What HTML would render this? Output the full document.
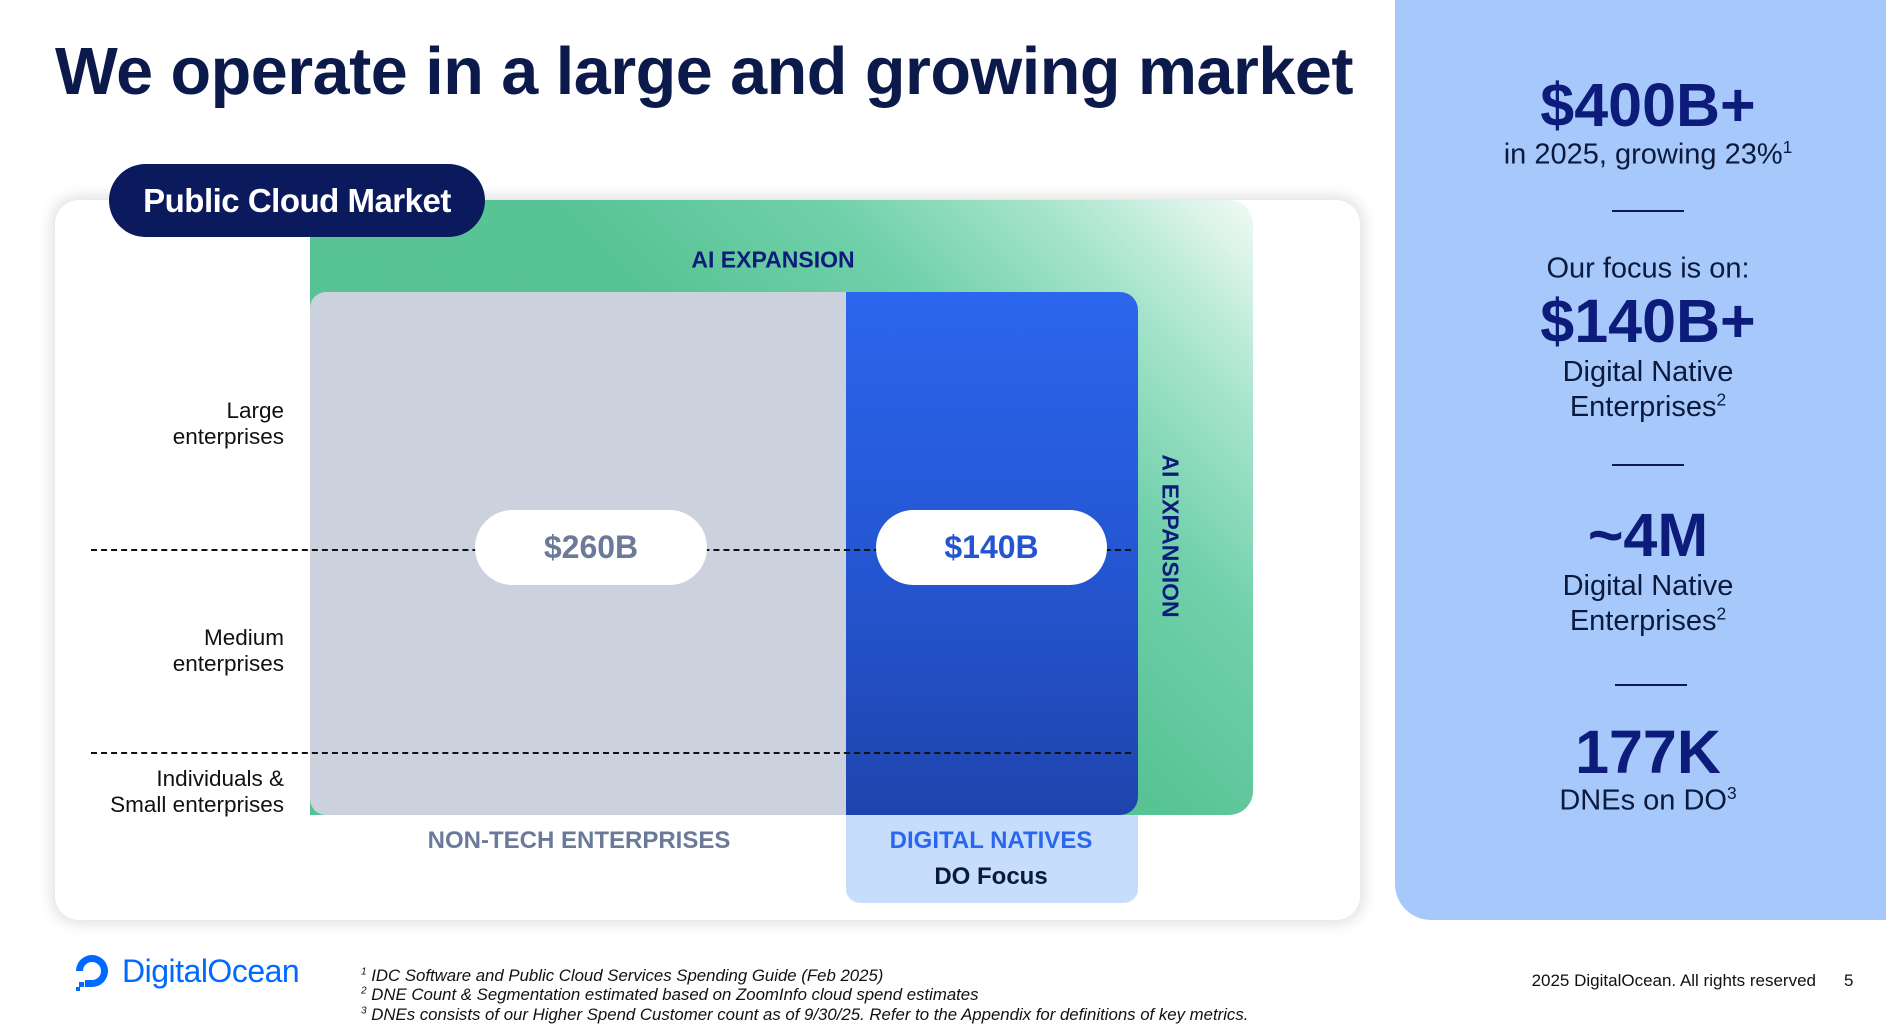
<!DOCTYPE html>
<html><head><meta charset="utf-8"><style>
*{margin:0;padding:0;box-sizing:border-box}
body{width:1886px;height:1034px;position:relative;background:#fff;font-family:"Liberation Sans",sans-serif;overflow:hidden;color:#0b1a5c}
sup{line-height:0;font-size:60%}
.a{position:absolute}
.c{transform:translate(-50%,-50%);white-space:nowrap;text-align:center}
.lbl{position:absolute;right:1602px;text-align:right;font-size:22.5px;color:#111;line-height:26px}
.rp{position:absolute;left:1648px;transform:translate(-50%,-50%);text-align:center;white-space:nowrap;color:#0b1a5c}
.big{font-size:61px;font-weight:bold;color:#0d1b7a}
.med{font-size:29px;color:#0b1a3c}
.hr{position:absolute;height:2px;background:#0b1a5c;width:72px;left:1612px}
.pill{position:absolute;background:#fff;border-radius:38px;font-size:32px;font-weight:bold;display:flex;align-items:center;justify-content:center}
</style></head><body>
<div class="a" style="left:55px;top:34px;font-size:66.5px;font-weight:bold;letter-spacing:-0.5px;color:#0b1a4a">We operate in a large and growing market</div>

<div class="a" style="left:55px;top:200px;width:1305px;height:720px;background:#fff;border-radius:24px;box-shadow:0 0 14px 4px rgba(0,0,0,0.12)"></div>
<div class="a" style="left:310px;top:200px;width:943px;height:615px;border-radius:0 24px 24px 0;background:linear-gradient(225deg,#f2fbf6 0%,#a6e4cb 14%,#6fd0aa 28%,#58c394 45%,#56c192 100%)"></div>
<div class="a c" style="left:773px;top:260px;font-size:23px;font-weight:bold;color:#0d1b7a">AI EXPANSION</div>
<div class="a c" style="left:1170px;top:536px;font-size:23px;font-weight:bold;color:#0d1b7a;transform:translate(-50%,-50%) rotate(90deg)">AI EXPANSION</div>
<div class="a" style="left:310px;top:292px;width:536px;height:523px;background:#cbd1dd;border-radius:16px 0 0 16px"></div>
<div class="a" style="left:846px;top:292px;width:292px;height:523px;background:linear-gradient(180deg,#2b66ee 0%,#2455d0 55%,#1f44ad 100%);border-radius:0 18px 18px 0"></div>
<div class="a" style="left:846px;top:815px;width:292px;height:88px;background:#c6ddfb;border-radius:0 0 14px 14px"></div>

<div class="a" style="left:91px;top:549px;width:1040px;border-top:2.5px dashed #111"></div>
<div class="a" style="left:91px;top:752px;width:1040px;border-top:2.5px dashed #111"></div>

<div class="pill" style="left:475px;top:510px;width:232px;height:75px;color:#6c7a99">$260B</div>
<div class="pill" style="left:876px;top:510px;width:231px;height:75px;color:#2455d0">$140B</div>

<div class="a" style="left:109px;top:164px;width:376px;height:73px;background:#0b1a5c;border-radius:37px;color:#fff;font-size:33px;font-weight:bold;display:flex;align-items:center;justify-content:center;letter-spacing:-0.5px">Public Cloud Market</div>

<div class="lbl" style="top:398px">Large<br>enterprises</div>
<div class="lbl" style="top:625px">Medium<br>enterprises</div>
<div class="lbl" style="top:766px">Individuals &amp;<br>Small enterprises</div>

<div class="a c" style="left:579px;top:841px;font-size:24px;font-weight:bold;color:#6c7a99">NON-TECH ENTERPRISES</div>
<div class="a c" style="left:991px;top:841px;font-size:24px;font-weight:bold;color:#2b66ee">DIGITAL NATIVES</div>
<div class="a c" style="left:991px;top:877px;font-size:24px;font-weight:bold;color:#0b1a3c">DO Focus</div>

<div class="a" style="left:1395px;top:0;width:491px;height:920px;background:#a6c8fb;border-radius:0 0 0 36px"></div>
<div class="rp big" style="top:105px">$400B+</div>
<div class="rp med" style="top:155px">in 2025, growing 23%<sup>1</sup></div>
<div class="hr" style="top:210px"></div>
<div class="rp med" style="top:269px">Our focus is on:</div>
<div class="rp big" style="top:321px">$140B+</div>
<div class="rp med" style="top:390px;line-height:35px">Digital Native<br>Enterprises<sup>2</sup></div>
<div class="hr" style="top:464px"></div>
<div class="rp big" style="top:535px">~4M</div>
<div class="rp med" style="top:604px;line-height:35px">Digital Native<br>Enterprises<sup>2</sup></div>
<div class="hr" style="top:684px;left:1615px"></div>
<div class="rp big" style="top:752px">177K</div>
<div class="rp med" style="top:801px">DNEs on DO<sup>3</sup></div>

<div class="a" style="left:72px;top:951px;display:flex;align-items:center;color:#0069ff;font-size:32px;letter-spacing:-0.5px">
<svg width="40" height="40" viewBox="0 0 40 40" style="margin-right:10px"><path d="M20 36 V29 A9 9 0 1 0 11 20 H4 A16 16 0 1 1 20 36 Z" fill="#0069ff"/><rect x="13" y="29" width="7" height="7" fill="#0069ff"/><rect x="7" y="31" width="5" height="5" fill="#0069ff"/><rect x="4" y="36" width="4" height="4" fill="#0069ff"/></svg>DigitalOcean</div>
<div class="a" style="left:361px;top:966px;font-size:16.8px;font-style:italic;line-height:19.3px;color:#111">
<div><sup>1</sup> IDC Software and Public Cloud Services Spending Guide (Feb 2025)</div>
<div><sup>2</sup> DNE Count &amp; Segmentation estimated based on ZoomInfo cloud spend estimates</div>
<div><sup>3</sup> DNEs consists of our Higher Spend Customer count as of 9/30/25. Refer to the Appendix for definitions of key metrics.</div></div>
<div class="a" style="right:70px;top:971px;font-size:17px;color:#111">2025 DigitalOcean. All rights reserved</div>
<div class="a" style="left:1844px;top:971px;font-size:17px;color:#111">5</div>
</body></html>
